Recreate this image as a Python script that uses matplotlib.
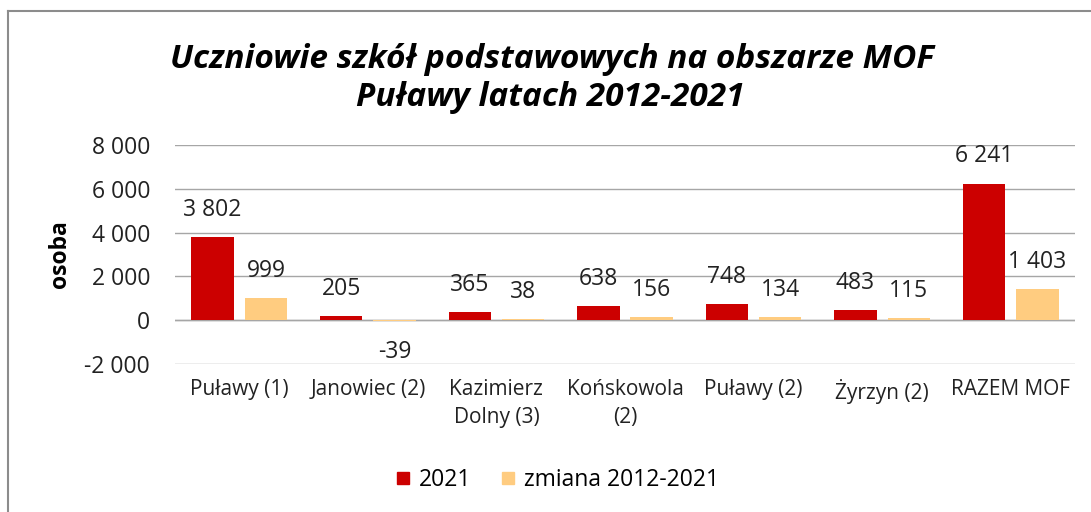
import matplotlib
matplotlib.use("Agg")
import matplotlib.pyplot as plt
from matplotlib.lines import Line2D
import numpy as np

categories = ["Puławy (1)", "Janowiec (2)", "Kazimierz\nDolny (3)", "Końskowola\n(2)",
              "Puławy (2)", "Żyrzyn (2)", "RAZEM MOF"]
values_2021 = [3802, 205, 365, 638, 748, 483, 6241]
values_change = [999, -39, 38, 156, 134, 115, 1403]
yticks = [-2000, 0, 2000, 4000, 6000, 8000]
series_names = ["2021", "zmiana 2012-2021"]
title_lines = ["Uczniowie szkół podstawowych na obszarze MOF", "Puławy latach 2012-2021"]

RED = "#CC0000"
ORANGE = "#FFCC80"
TXT = "#222222"
FONT = ["Open Sans", "DejaVu Sans"]
plt.rcParams["font.family"] = FONT

W, H = 1091, 512
fig = plt.figure(figsize=(W / 100, H / 100), dpi=100)
ax = fig.add_axes([175 / W, 1 - 364 / H, 900 / W, (364 - 145) / H])

def fmt(v):
    s = f"{abs(v):,}".replace(",", " ")
    return ("-" if v < 0 else "") + s

x = np.arange(len(categories))
off = 0.207
bw = 0.33
b1 = ax.bar(x - off, values_2021, bw, color=RED, zorder=3)
b2 = ax.bar(x + off, values_change, bw, color=ORANGE, zorder=3)

for bars, vals in ((b1, values_2021), (b2, values_change)):
    for rect, v in zip(bars, vals):
        cx = rect.get_x() + rect.get_width() / 2
        dy = 19.5 if v >= 0 else -22.5
        ax.annotate(fmt(v), (cx, v), xytext=(0, dy), textcoords="offset points",
                    ha="center", va="center", fontsize=16.5, color=TXT)

ax.set_xlim(-0.5, len(categories) - 0.5)
ax.set_ylim(-2000, 8000)
ax.set_yticks(yticks)
ax.set_yticklabels([fmt(v) for v in yticks], fontsize=16.5, color=TXT)
ax.set_xticks(x)
ax.set_xticklabels(categories, fontsize=15, color=TXT, linespacing=1.45)
ax.tick_params(axis="both", length=0)
ax.tick_params(axis="x", pad=11)
ax.tick_params(axis="y", pad=18)
ax.grid(axis="y", color="#A6A6A6", linewidth=1, zorder=0)
for s in ax.spines.values():
    s.set_visible(False)
ax.axhline(0, color="#A6A6A6", linewidth=1, zorder=2)

fig.text(60 / W, 1 - 254 / H, "osoba", rotation=90, ha="center", va="center",
         fontsize=16.5, fontweight="bold")
fig.text(552 / W, 1 - 60 / H, title_lines[0], ha="center", va="center", fontsize=24,
         fontweight="bold", fontstyle="italic")
fig.text(550 / W, 1 - 97 / H, title_lines[1], ha="center", va="center", fontsize=24,
         fontweight="bold", fontstyle="italic")

handles = [Line2D([], [], marker="s", linestyle="none", markersize=8.5, color=RED),
           Line2D([], [], marker="s", linestyle="none", markersize=8.5, color=ORANGE)]
fig.legend(handles, series_names, loc="center", bbox_to_anchor=(554 / W, 1 - 480 / H),
           ncol=2, frameon=False, fontsize=16.5, handletextpad=0.1, columnspacing=1.0,
           handlelength=1.2)

fig.add_artist(Line2D([8 / W, 8 / W], [0, 1 - 11 / H], color="#8C8C8C", linewidth=1.5,
                      transform=fig.transFigure))
fig.add_artist(Line2D([8 / W, 1], [1 - 11 / H, 1 - 11 / H], color="#8C8C8C", linewidth=1.5,
                      transform=fig.transFigure))

fig.savefig("out.png", dpi=100)
